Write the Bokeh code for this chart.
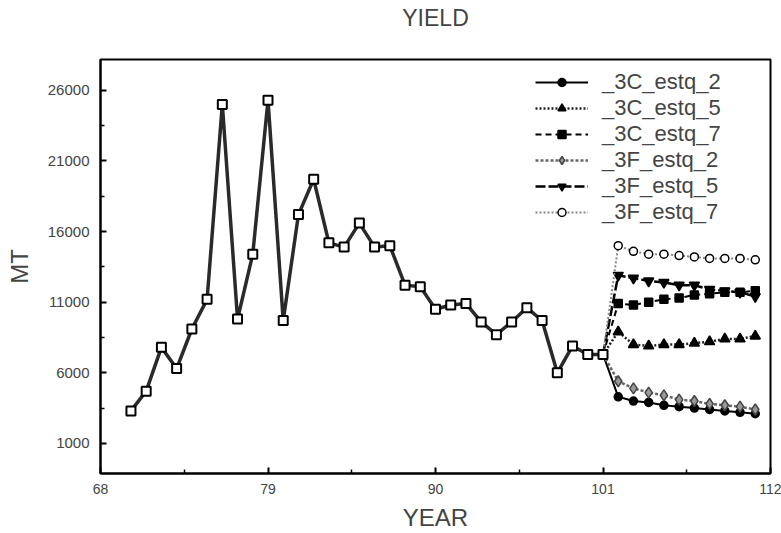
from bokeh.plotting import figure
from bokeh.models import (ColumnDataSource, FixedTicker, Legend, LegendItem, Range1d, Title)
from bokeh.embed import file_html
from bokeh.resources import INLINE

# ---- data ----
hist_years = list(range(70, 102))
hist_yield = [3300, 4700, 7800, 6300, 9100, 11200, 25000, 9800, 14400, 25300,
              9700, 17200, 19700, 15200, 14900, 16600, 14900, 15000, 12200, 12100,
              10500, 10800, 10900, 9600, 8700, 9600, 10600, 9700, 6000, 7900,
              7300, 7300]

proj_years = list(range(101, 112))
c3_estq_2 = [7300, 4300, 4000, 3900, 3700, 3600, 3500, 3400, 3300, 3200, 3100]
c3_estq_5 = [7300, 8900, 8000, 7900, 8000, 8000, 8100, 8200, 8400, 8400, 8600]
c3_estq_7 = [7300, 10900, 10800, 11000, 11200, 11300, 11500, 11600, 11700, 11700, 11800]
f3_estq_2 = [7300, 5400, 4900, 4600, 4400, 4100, 4000, 3800, 3700, 3600, 3400]
f3_estq_5 = [7300, 12900, 12700, 12500, 12400, 12200, 12200, 11900, 11800, 11700, 11400]
f3_estq_7 = [7300, 15000, 14600, 14400, 14400, 14300, 14200, 14100, 14100, 14100, 14000]

series_names = ["_3C_estq_2", "_3C_estq_5", "_3C_estq_7",
                "_3F_estq_2", "_3F_estq_5", "_3F_estq_7"]
series_values = [c3_estq_2, c3_estq_5, c3_estq_7, f3_estq_2, f3_estq_5, f3_estq_7]

x_ticks = [68, 79, 90, 101, 112]
y_ticks = [1000, 6000, 11000, 16000, 21000, 26000]

FONT = "Liberation Sans"

p = figure(width=781, height=533, output_backend="svg", toolbar_location=None,
           x_range=Range1d(68, 112), y_range=Range1d(-1130, 28180),
           min_border_left=100, min_border_right=11, min_border_top=59,
           min_border_bottom=60)

# default title left empty; a blank spacer title sits next to the frame and
# the real title is stacked above it
p.title.text = ""
p.title.standoff = 0
p.add_layout(Title(text=" ", text_font=FONT, text_font_size="23px",
                   standoff=1), "above")
p.add_layout(Title(text="YIELD", align="center", text_font=FONT,
                   text_font_size="23px", text_font_style="normal",
                   standoff=0), "above")

p.xgrid.visible = False
p.ygrid.visible = False
p.outline_line_color = "black"
p.outline_line_width = 2
p.background_fill_color = "white"
p.border_fill_color = "white"

for ax in (p.xaxis[0], p.yaxis[0]):
    ax.axis_line_width = 2
    ax.axis_line_color = "black"
    ax.major_tick_in = 6
    ax.major_tick_out = 0
    ax.minor_tick_in = 4
    ax.minor_tick_out = 0
    ax.major_tick_line_width = 2
    ax.minor_tick_line_width = 1.5
    ax.major_label_text_font = FONT
    ax.axis_label_text_font = FONT
    ax.axis_label_text_font_style = "normal"
    ax.axis_label_text_font_size = "24px"

p.xaxis.ticker = FixedTicker(ticks=x_ticks, minor_ticks=[73.5, 84.5, 95.5, 106.5])
p.yaxis.ticker = FixedTicker(ticks=y_ticks,
                             minor_ticks=[3500, 8500, 13500, 18500, 23500])
p.xaxis.axis_label = "YEAR"
p.yaxis.axis_label = "MT"
p.xaxis.major_label_text_font_size = "14px"
p.yaxis.major_label_text_font_size = "15px"
p.xaxis.major_label_standoff = 10
p.yaxis.major_label_standoff = 11
p.xaxis.axis_label_standoff = 7
p.yaxis.axis_label_standoff = 12

styles = [
    dict(line_color="black", line_dash="solid", line_width=2,
         marker="circle", size=8, fill_color="black", mline="black"),
    dict(line_color="#222222", line_dash="2 2", line_width=2.5,
         marker="triangle", size=10, fill_color="black", mline="black"),
    dict(line_color="black", line_dash="6 4", line_width=2,
         marker="square", size=8, fill_color="black", mline="black"),
    dict(line_color="#666666", line_dash="3 2", line_width=2.5,
         marker="diamond", size=11, fill_color="#999999", mline="#444444"),
    dict(line_color="black", line_dash="10 3", line_width=2.5,
         marker="inverted_triangle", size=10, fill_color="black", mline="black"),
    dict(line_color="#888888", line_dash="2 2", line_width=2,
         marker="circle", size=8, fill_color="white", mline="black"),
]

items = []
for name, vals, st in zip(series_names, series_values, styles):
    src = ColumnDataSource(dict(x=proj_years, y=vals))
    lr = p.line("x", "y", source=src, line_color=st["line_color"],
                line_dash=st["line_dash"], line_width=st["line_width"])
    msrc = ColumnDataSource(dict(x=proj_years[1:], y=vals[1:]))
    sr = p.scatter("x", "y", source=msrc, marker=st["marker"], size=st["size"],
                   fill_color=st["fill_color"], line_color=st["mline"],
                   line_width=1.5)
    items.append(LegendItem(label=name, renderers=[lr, sr]))

hsrc = ColumnDataSource(dict(x=hist_years, y=hist_yield))
p.line("x", "y", source=hsrc, line_color="#2a2a2a", line_width=3.5)
p.scatter("x", "y", source=hsrc, marker="square", size=9, fill_color="white",
          line_color="black", line_width=2)

legend = Legend(items=items, location=(430, 243), orientation="vertical",
                background_fill_alpha=0, border_line_alpha=0,
                label_text_font=FONT, label_text_font_size="22px",
                glyph_width=53, glyph_height=20, label_height=20,
                spacing=0, padding=5, margin=0, label_standoff=14)
p.add_layout(legend)

open("out.html", "w").write(file_html(p, INLINE))
